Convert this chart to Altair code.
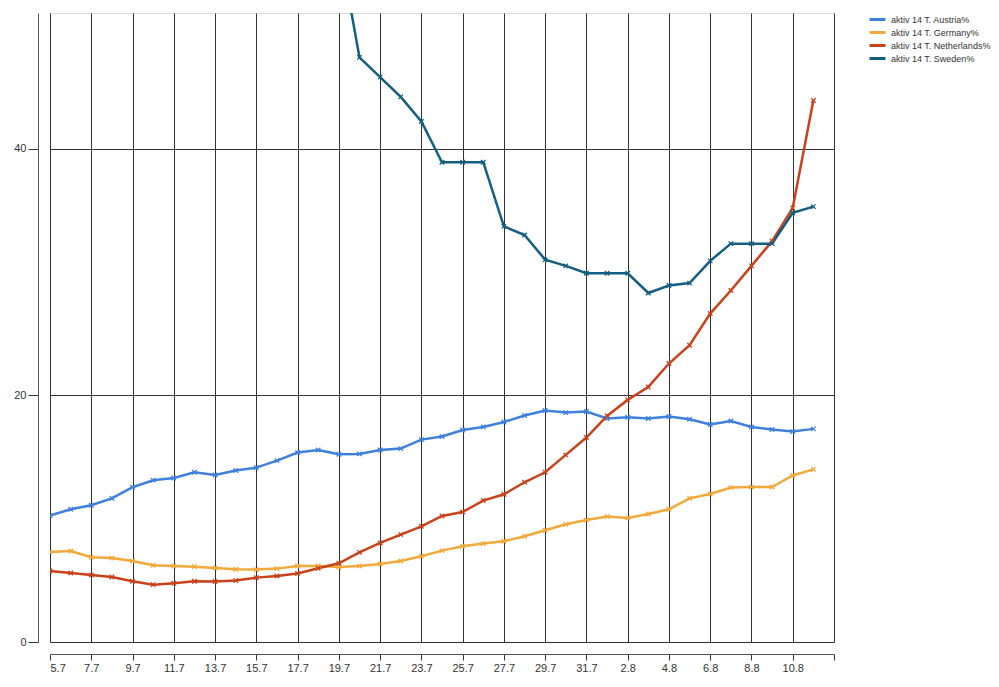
import altair as alt
import pandas as pd

dates = [
    "2020-07-05", "2020-07-06", "2020-07-07", "2020-07-08", "2020-07-09", "2020-07-10",
    "2020-07-11", "2020-07-12", "2020-07-13", "2020-07-14", "2020-07-15", "2020-07-16",
    "2020-07-17", "2020-07-18", "2020-07-19", "2020-07-20", "2020-07-21", "2020-07-22",
    "2020-07-23", "2020-07-24", "2020-07-25", "2020-07-26", "2020-07-27", "2020-07-28",
    "2020-07-29", "2020-07-30", "2020-07-31", "2020-08-01", "2020-08-02", "2020-08-03",
    "2020-08-04", "2020-08-05", "2020-08-06", "2020-08-07", "2020-08-08", "2020-08-09",
    "2020-08-10", "2020-08-11",
]

austria = [10.25, 10.76, 11.09, 11.65, 12.55, 13.11, 13.3, 13.76, 13.54, 13.9, 14.14, 14.71,
           15.36, 15.57, 15.22, 15.25, 15.57, 15.68, 16.41, 16.66, 17.19, 17.44, 17.84, 18.36,
           18.77, 18.6, 18.69, 18.12, 18.22, 18.12, 18.28, 18.06, 17.63, 17.92, 17.44, 17.23,
           17.06, 17.28]
germany = [7.3, 7.38, 6.87, 6.81, 6.57, 6.22, 6.16, 6.11, 6.0, 5.9, 5.87, 5.95,
           6.16, 6.16, 6.08, 6.16, 6.33, 6.57, 6.95, 7.41, 7.76, 7.98, 8.17, 8.57,
           9.06, 9.55, 9.89, 10.17, 10.06, 10.38, 10.76, 11.65, 12.0, 12.52, 12.57, 12.57,
           13.5, 14.0]
netherlands = [5.76, 5.6, 5.43, 5.27, 4.92, 4.65, 4.76, 4.92, 4.9, 4.98, 5.22, 5.35,
               5.55, 5.98, 6.38, 7.27, 8.03, 8.71, 9.38, 10.22, 10.54, 11.47, 11.98, 12.95,
               13.76, 15.17, 16.58, 18.33, 19.63, 20.68, 22.58, 24.06, 26.63, 28.5, 30.5, 32.5,
               35.2, 43.9]
sweden = [None] * 14 + [56.7, 47.4, 45.8, 44.2, 42.2, 38.9, 38.9, 38.9, 33.7, 33.0, 31.0,
                        30.5, 29.9, 29.9, 29.9, 28.3, 28.9, 29.1, 30.9, 32.3, 32.3, 32.3,
                        34.8, 35.3]

series_names = ["aktiv 14 T. Austria%", "aktiv 14 T. Germany%",
                "aktiv 14 T. Netherlands%", "aktiv 14 T. Sweden%"]
series_colors = ["#3f80dd", "#f2a93b", "#c9421a", "#135e82"]

tick_dates = ["2020-07-05", "2020-07-07", "2020-07-09", "2020-07-11", "2020-07-13",
              "2020-07-15", "2020-07-17", "2020-07-19", "2020-07-21", "2020-07-23",
              "2020-07-25", "2020-07-27", "2020-07-29", "2020-07-31", "2020-08-02",
              "2020-08-04", "2020-08-06", "2020-08-08", "2020-08-10", "2020-08-12"]
y_ticks = [0, 20, 40]
y_max = 51

rows = []
for name, vals in zip(series_names, [austria, germany, netherlands, sweden]):
    for d, v in zip(dates, vals):
        if v is not None:
            rows.append({"date": d, "series": name, "value": v})
df = pd.DataFrame(rows)

def ms(s):
    return int(pd.Timestamp(s, tz="UTC").timestamp() * 1000)

tick_ms = [ms(t) for t in tick_dates]
last_ms = tick_ms[-1]

font = "Liberation Sans"

x_enc = alt.X(
    "date:T",
    scale=alt.Scale(type="utc", domain=[tick_ms[0], last_ms], nice=False),
    axis=alt.Axis(
        values=tick_ms, format="%-d.%-m", title=None, offset=12,
        tickSize=6, labelPadding=2, labelFontSize=11, labelFont=font,
        labelColor="#333333", domainColor="#555555", tickColor="#333333",
        gridColor="#333333", gridOpacity=1, gridWidth=1, labelAngle=0,
        labelExpr=f"datum.value >= {last_ms} ? '' : datum.label",
        labelOverlap=False,
    ),
)
y_enc = alt.Y(
    "value:Q",
    scale=alt.Scale(domain=[0, y_max], nice=False),
    axis=alt.Axis(
        values=y_ticks, title=None, offset=12, tickSize=10, labelPadding=2,
        labelFontSize=11, labelFont=font, labelColor="#333333",
        domainColor="#555555", tickColor="#333333", gridColor="#333333",
        gridOpacity=1, gridWidth=1,
    ),
)
color_enc = alt.Color(
    "series:N",
    scale=alt.Scale(domain=series_names, range=series_colors),
    legend=alt.Legend(
        title=None, orient="none", legendX=821, legendY=0,
        symbolType="M-1.6,0L1.6,0", symbolStrokeWidth=3, symbolSize=100,
        labelFontSize=9, labelFont=font, labelColor="#333333",
        rowPadding=-4.7, labelOffset=7, labelLimit=200,
    ),
)

base = alt.Chart(df).encode(x=x_enc, y=y_enc, color=color_enc)
lines = base.mark_line(strokeWidth=2.5, clip=True)
points = base.mark_point(
    shape="M-1,-1L1,1M-1,1L1,-1", size=20, filled=False, strokeWidth=1.3,
    opacity=1, clip=True,
)

chart = (
    alt.layer(lines, points)
    .properties(
        width=784, height=629,
        autosize=alt.AutoSizeParams(type="none"),
        padding={"left": 42, "top": 5, "right": 157, "bottom": 35},
    )
    .configure_view(stroke=None)
    .configure(background="white")
)

chart.save("out.html", embed_options={"renderer": "svg", "actions": False})
